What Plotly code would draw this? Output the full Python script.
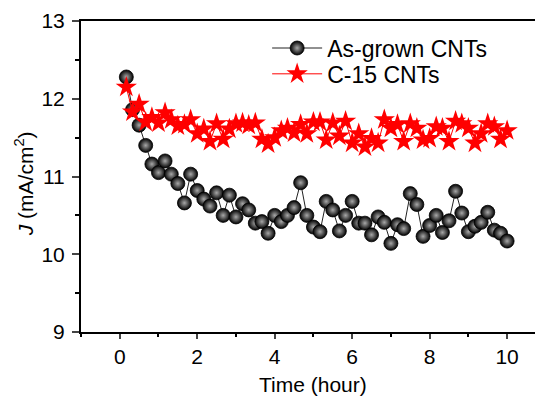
import plotly.graph_objects as go

times = [0.17, 0.33, 0.50, 0.67, 0.83, 1.00, 1.17, 1.33, 1.50, 1.67,
         1.83, 2.00, 2.17, 2.33, 2.50, 2.67, 2.83, 3.00, 3.17, 3.33,
         3.50, 3.67, 3.83, 4.00, 4.17, 4.33, 4.50, 4.67, 4.83, 5.00,
         5.17, 5.33, 5.50, 5.67, 5.83, 6.00, 6.17, 6.33, 6.50, 6.67,
         6.83, 7.00, 7.17, 7.33, 7.50, 7.67, 7.83, 8.00, 8.17, 8.33,
         8.50, 8.67, 8.83, 9.00, 9.17, 9.33, 9.50, 9.67, 9.83, 10.00]

as_grown = [12.28, 11.86, 11.66, 11.40, 11.16, 11.05, 11.20, 11.03, 10.91, 10.66,
            11.03, 10.82, 10.71, 10.62, 10.79, 10.50, 10.76, 10.48, 10.65, 10.57,
            10.40, 10.42, 10.27, 10.50, 10.42, 10.50, 10.60, 10.92, 10.50, 10.35,
            10.29, 10.68, 10.57, 10.30, 10.50, 10.68, 10.40, 10.40, 10.25, 10.48,
            10.41, 10.14, 10.38, 10.33, 10.78, 10.64, 10.23, 10.37, 10.50, 10.28,
            10.43, 10.81, 10.53, 10.29, 10.36, 10.41, 10.54, 10.31, 10.27, 10.17]

c15 = [12.15, 11.83, 11.93, 11.70, 11.76, 11.69, 11.82, 11.73, 11.65, 11.67,
       11.73, 11.55, 11.61, 11.45, 11.68, 11.48, 11.61, 11.68, 11.69, 11.66,
       11.69, 11.48, 11.42, 11.50, 11.59, 11.62, 11.56, 11.67, 11.55, 11.70,
       11.70, 11.47, 11.69, 11.52, 11.71, 11.43, 11.55, 11.38, 11.49, 11.43,
       11.73, 11.62, 11.67, 11.45, 11.68, 11.62, 11.47, 11.49, 11.64, 11.62,
       11.45, 11.71, 11.68, 11.62, 11.43, 11.55, 11.68, 11.64, 11.48, 11.59]

series_names = ["As-grown CNTs", "C-15 CNTs"]
x_ticks = [0, 2, 4, 6, 8, 10]
y_ticks = [9, 10, 11, 12, 13]

FONT = "Arial, Liberation Sans, sans-serif"

fig = go.Figure()
fig.add_trace(go.Scatter(
    x=times, y=as_grown, name=series_names[0], mode="lines+markers",
    line=dict(color="#222222", width=1),
    marker=dict(symbol="circle", size=14, color="black",
                gradient=dict(type="radial", color="#a8a8a8"),
                line=dict(color="black", width=0.8)),
    legend="legend",
))
fig.add_trace(go.Scatter(
    x=times, y=c15, name=series_names[1], mode="lines+markers",
    line=dict(color="red", width=1),
    marker=dict(symbol="star", size=16, color="red", line=dict(width=0)),
    legend="legend2",
))

leg_common = dict(xanchor="left", yanchor="middle", bgcolor="rgba(0,0,0,0)",
                  font=dict(size=23), itemwidth=50)
fig.update_layout(
    width=535, height=396,
    margin=dict(l=81, r=0, t=21, b=64, pad=0),
    paper_bgcolor="white", plot_bgcolor="white",
    font=dict(family=FONT, size=21, color="black"),
    showlegend=True,
    legend=dict(x=0.41, y=0.913, **leg_common),
    legend2=dict(x=0.41, y=0.830, **leg_common),
)
fig.update_xaxes(
    range=[-1, 10.72], tickvals=x_ticks, ticks="outside", ticklen=5, tickwidth=1.5,
    showline=True, linewidth=2, linecolor="black", mirror=True,
    showgrid=False, zeroline=False, tickfont=dict(size=21),
    minor=dict(dtick=1, tick0=1, ticks="outside", ticklen=3, tickwidth=1.5, tickcolor="black"),
)
fig.update_yaxes(
    range=[9, 13], tickvals=y_ticks, ticks="outside", ticklen=7, tickwidth=1.5,
    showline=True, linewidth=2, linecolor="black", mirror=False,
    showgrid=False, zeroline=False, tickfont=dict(size=21), ticklabelstandoff=3,
    minor=dict(dtick=0.5, tick0=9, ticks="outside", ticklen=4, tickwidth=1.5, tickcolor="black"),
)
fig.add_annotation(text="Time (hour)", xref="x", x=5, yref="paper", y=0,
                   yshift=-52, yanchor="middle", showarrow=False,
                   font=dict(size=21))
fig.add_annotation(text="<i>J</i> (mA/cm<sup>2</sup>)", xref="paper", x=0, xshift=-57,
                   yref="y", y=10.9, textangle=-90, showarrow=False,
                   xanchor="center", yanchor="middle", font=dict(size=21))

fig.write_html("out.html", config={"displayModeBar": False},
               post_script="document.body.style.margin='0';")
